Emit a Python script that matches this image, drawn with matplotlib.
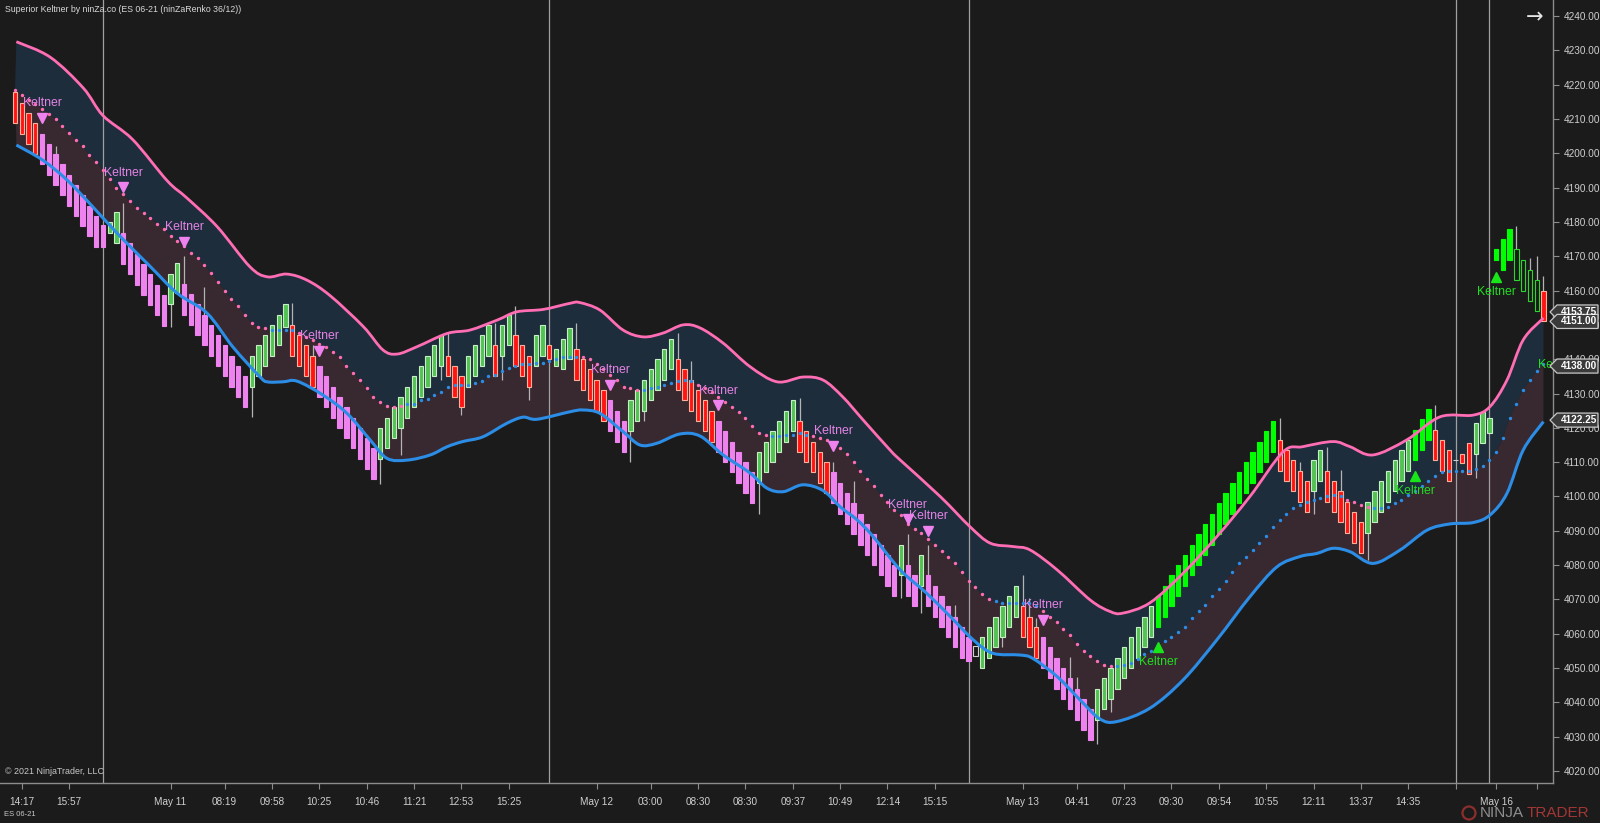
import numpy as np
import matplotlib.pyplot as plt
from matplotlib.patches import Polygon, Circle, PathPatch
from matplotlib.path import Path
from matplotlib.transforms import blended_transform_factory, IdentityTransform

# ninZaRenko bars (open / close)
OPEN = [4217.75, 4214.75, 4211.75, 4208.75, 4205.75, 4202.75, 4199.75, 4196.75, 4193.75, 4190.75,
        4187.75, 4184.75, 4181.75, 4179.0, 4176.75, 4173.75, 4176.75, 4173.75, 4170.75, 4167.75,
        4164.75, 4161.75, 4158.75, 4156.0, 4159.25, 4162.0, 4159.0, 4156.0, 4153.0, 4150.0,
        4147.0, 4144.0, 4141.0, 4138.0, 4135.0, 4132.0, 4135.0, 4138.0, 4141.0, 4144.0,
        4149.5, 4150.0, 4147.0, 4144.0, 4141.0, 4138.0, 4135.0, 4132.0, 4129.0, 4126.0,
        4123.0, 4120.0, 4117.0, 4114.0, 4111.0, 4114.0, 4117.0, 4120.0, 4123.0, 4126.0,
        4129.0, 4132.0, 4135.0, 4138.0, 4141.0, 4138.0, 4135.0, 4132.0, 4135.0, 4138.0,
        4141.0, 4144.0, 4141.0, 4144.0, 4147.0, 4144.0, 4141.0, 4138.0, 4141.0, 4144.0,
        4138.0, 4137.0, 4140.0, 4143.0, 4140.0, 4137.0, 4134.0, 4131.0, 4128.0, 4125.0,
        4122.0, 4119.0, 4122.0, 4125.0, 4128.0, 4131.0, 4134.0, 4137.0, 4140.0, 4137.0,
        4134.0, 4131.0, 4128.0, 4125.0, 4122.0, 4119.0, 4116.0, 4113.0, 4110.0, 4107.0,
        4104.0, 4107.0, 4110.0, 4113.0, 4116.0, 4119.0, 4122.0, 4119.0, 4116.0, 4113.0,
        4110.0, 4107.0, 4104.0, 4101.0, 4098.0, 4095.0, 4092.0, 4089.0, 4086.0, 4083.0,
        4080.0, 4077.0, 4080.0, 4077.0, 4074.0, 4077.0, 4074.0, 4071.0, 4068.0, 4065.0,
        4062.0, 4059.0, 4053.5, 4050.0, 4053.0, 4056.0, 4059.0, 4062.0, 4065.0, 4068.0,
        4065.0, 4062.0, 4059.0, 4056.0, 4053.0, 4050.0, 4047.0, 4044.0, 4041.0, 4038.0,
        4035.0, 4038.0, 4041.0, 4044.0, 4047.0, 4050.0, 4053.0, 4056.0, 4059.0, 4062.0,
        4065.0, 4068.0, 4071.0, 4074.0, 4077.0, 4080.0, 4083.0, 4086.0, 4089.0, 4092.0,
        4095.0, 4098.0, 4101.0, 4104.0, 4107.0, 4110.0, 4113.0, 4116.5, 4113.5, 4110.5,
        4107.5, 4104.5, 4101.5, 4104.5, 4107.5, 4104.5, 4101.5, 4098.5, 4095.5, 4092.5,
        4089.5, 4092.5, 4095.5, 4098.5, 4101.5, 4104.5, 4107.5, 4110.5, 4113.5, 4116.5,
        4119.5, 4116.5, 4113.5, 4110.75, 4112.5, 4115.5, 4112.5, 4115.5, 4118.5, 4169.0,
        4166.0, 4169.0, 4172.0, 4169.0, 4166.0, 4163.0, 4160.0]
CLOSE = [4208.75, 4205.75, 4202.75, 4199.75, 4196.75, 4193.75, 4190.75, 4187.75, 4184.75, 4181.75,
         4178.75, 4175.75, 4172.75, 4172.75, 4180.0, 4182.75, 4167.75, 4164.75, 4161.75, 4158.75,
         4155.75, 4152.75, 4149.75, 4164.75, 4168.0, 4153.0, 4150.0, 4147.0, 4144.0, 4141.0,
         4138.0, 4135.0, 4132.0, 4129.0, 4126.0, 4141.0, 4144.0, 4147.0, 4150.0, 4153.0,
         4156.0, 4141.0, 4138.0, 4135.0, 4132.0, 4129.0, 4126.0, 4123.0, 4120.0, 4117.0,
         4114.0, 4111.0, 4108.0, 4105.0, 4120.0, 4123.0, 4126.0, 4129.0, 4132.0, 4135.0,
         4138.0, 4141.0, 4144.0, 4147.0, 4135.0, 4129.0, 4126.0, 4141.0, 4144.0, 4147.0,
         4150.0, 4135.0, 4150.0, 4153.0, 4138.0, 4135.0, 4132.0, 4147.0, 4150.0, 4140.0,
         4143.0, 4146.0, 4149.0, 4134.0, 4131.0, 4128.0, 4125.0, 4122.0, 4119.0, 4116.0,
         4113.0, 4128.0, 4131.0, 4134.0, 4137.0, 4140.0, 4143.0, 4146.0, 4131.0, 4128.0,
         4125.0, 4122.0, 4119.0, 4116.0, 4113.0, 4110.0, 4107.0, 4104.0, 4101.0, 4098.0,
         4113.0, 4116.0, 4119.0, 4122.0, 4125.0, 4128.0, 4113.0, 4110.0, 4107.0, 4104.0,
         4101.0, 4098.0, 4095.0, 4092.0, 4089.0, 4086.0, 4083.0, 4080.0, 4077.0, 4074.0,
         4071.0, 4086.0, 4071.0, 4068.0, 4083.0, 4068.0, 4065.0, 4062.0, 4059.0, 4056.0,
         4053.0, 4052.0, 4056.5, 4059.0, 4062.0, 4065.0, 4068.0, 4071.0, 4074.0, 4059.0,
         4056.0, 4053.0, 4050.0, 4047.0, 4044.0, 4041.0, 4038.0, 4035.0, 4032.0, 4029.0,
         4044.0, 4047.0, 4050.0, 4053.0, 4056.0, 4059.0, 4062.0, 4065.0, 4068.0, 4071.0,
         4074.0, 4077.0, 4080.0, 4083.0, 4086.0, 4089.0, 4092.0, 4095.0, 4098.0, 4101.0,
         4104.0, 4107.0, 4110.0, 4113.0, 4116.0, 4119.0, 4122.0, 4107.5, 4104.5, 4101.5,
         4098.5, 4095.5, 4110.5, 4113.5, 4098.5, 4095.5, 4092.5, 4089.5, 4086.5, 4083.5,
         4098.5, 4101.5, 4104.5, 4107.5, 4110.5, 4113.5, 4116.5, 4119.5, 4122.5, 4125.5,
         4110.5, 4107.5, 4104.5, 4110.75, 4109.75, 4106.5, 4121.5, 4124.5, 4122.75, 4172.0,
         4175.0, 4178.0, 4163.0, 4160.0, 4157.0, 4154.0, 4151.0]
# V violet down, R red down, G green up, L lime up, H hollow, D neutral
KIND = ("RRRRVVVVVV" "VVVVGGVVVV" "VVVGGVVVVV" "VVVVVGGGGG" "GRRRRVVVVV"
        "VVVVGGGGGG" "GGGGRRRGGG" "GRGGRRRGGR" "GGGRRRRRVV" "VGGGGGGGRR"
        "RRRRVVVVVV" "GGGGGGRRRR" "RVVVVVVVVV" "VGVVGVVVVV" "VVDGGGGGGR"
        "RRVVVVVVVV" "GGGGGGGGGL" "LLLLLLLLLL" "LLLLLLLRRR" "RRGGRRRRRR"
        "GGGGGGGLLL" "RRRDRRGGGL" "LLHHHHR")

WICK_HI_BARS = [6, 16, 25, 28, 41, 44, 64, 71, 74, 83, 98, 100, 116, 121, 124, 132, 135, 139,
                149, 150, 151, 156, 157, 187, 190, 194, 196, 210, 222, 224, 225, 226]
WICK_HI = [4202.0, 4185.5, 4170.0, 4161.0, 4156.3, 4144.0, 4147.7, 4150.6, 4155.4, 4150.5, 4147.5,
           4139.6, 4128.6, 4110.0, 4104.6, 4089.0, 4086.0, 4068.4, 4077.0, 4070.3, 4064.5, 4053.3,
           4047.5, 4123.0, 4110.0, 4114.5, 4107.7, 4126.7, 4178.8, 4169.4, 4170.1, 4164.2]
WICK_LO_BARS = [23, 35, 54, 57, 63, 66, 72, 76, 91, 93, 110, 131, 134, 146, 160, 162, 192, 200, 216]
WICK_LO = [4149.5, 4123.2, 4103.5, 4112.2, 4134.0, 4123.7, 4134.0, 4128.0, 4110.0, 4122.0, 4095.0,
           4070.3, 4066.0, 4056.2, 4028.0, 4037.3, 4095.0, 4081.5, 4105.3]

# Keltner middle (one dot per bar)
MIDDLE = [4218.5, 4217, 4215.5, 4214.5, 4213, 4211.5, 4210, 4208, 4206, 4204,
          4202, 4199.5, 4197.5, 4195, 4192.5, 4190, 4188, 4186, 4184, 4182.5,
          4181, 4179.5, 4178, 4176, 4174.5, 4173, 4171, 4169.5, 4167.5, 4165,
          4162.5, 4160, 4157.5, 4155.5, 4153, 4150.5, 4149.5, 4149, 4148.5, 4148.5,
          4148.5, 4148.5, 4147.5, 4146.5, 4145.5, 4144.5, 4143.5, 4142, 4140.5, 4138,
          4136, 4134, 4131.5, 4129, 4127.5, 4126.5, 4126, 4126.5, 4127, 4127,
          4128, 4128.5, 4129.5, 4130.5, 4132, 4132.5, 4132.5, 4132.5, 4133, 4133.5,
          4135, 4135.5, 4136.5, 4137.5, 4138, 4138.5, 4138.5, 4139, 4139, 4139.5,
          4140, 4140.5, 4140.5, 4140.5, 4140.5, 4140, 4138.5, 4137, 4135.5, 4134,
          4132, 4131.5, 4131, 4131, 4131.5, 4132, 4132.5, 4133, 4133.5, 4134,
          4133.5, 4132.5, 4131.5, 4130.5, 4129, 4127.5, 4126, 4124.5, 4123, 4120.5,
          4118.5, 4118, 4117.5, 4117.5, 4118, 4118, 4118.5, 4118, 4117.5, 4117,
          4116.5, 4115.5, 4114, 4112.5, 4110, 4107.5, 4105, 4103, 4100.5, 4098.5,
          4096, 4094.5, 4092, 4090.5, 4089.5, 4087.5, 4086, 4084, 4082.5, 4080.5,
          4078, 4075.5, 4073.5, 4071.5, 4070, 4069.5, 4069, 4069, 4069, 4069,
          4069, 4068, 4066.5, 4065, 4063.5, 4061.5, 4059.5, 4057, 4055, 4053.5,
          4052, 4051, 4050.5, 4050.5, 4051, 4051.5, 4052.5, 4054, 4055, 4056.5,
          4058, 4059, 4060.5, 4062, 4064.5, 4066.5, 4068.5, 4071, 4073, 4075.5,
          4078, 4080.5, 4082.5, 4084.5, 4086.5, 4088.5, 4091, 4093, 4095, 4096.5,
          4097.5, 4098.5, 4099, 4099.5, 4100, 4100.5, 4100, 4099, 4098.5, 4097.5,
          4097, 4096.5, 4096.5, 4097, 4098, 4099, 4100.5, 4101.5, 4103, 4104.5,
          4106, 4107, 4107.5, 4107.5, 4107.5, 4107.5, 4108, 4109, 4110.5, 4113,
          4117, 4123, 4127, 4131, 4134, 4136.5, 4138.5]
# bars where the middle dots are blue (uptrend)
UP_SPANS = [(38, 41), (58, 83), (93, 100), (112, 117), (145, 151), (163, 196), (201, 226)]

UPPER_X = [0.2, 5.2, 10.1, 13.0, 17.4, 22.5, 25.4, 29.9, 34.7, 37.3, 40.2, 43.2, 46.6, 51.5, 54.4,
           56.5, 59.4, 63.9, 67.3, 71.3, 74.2, 78.1, 82.1, 83.5, 86.5, 89.9, 92.9, 95.8, 98.8, 101.3,
           104.7, 108.7, 112.7, 116.5, 119.5, 122.4, 125.4, 129.4, 130.9, 136.8, 141.2, 144.2, 147.6,
           150.1, 154.1, 159.0, 161.9, 163.8, 167.8, 172.7, 177.7, 182.6, 187.5, 190.4, 194.9, 197.4,
           200.8, 205.8, 210.7, 215.6, 218.1, 220.6, 223.0, 226.0]
UPPER = [4232.5, 4228.0, 4219.0, 4211.0, 4204.0, 4192.0, 4187.0, 4178.6, 4167.0, 4164.0, 4164.8,
         4163.0, 4158.5, 4149.5, 4142.7, 4141.5, 4143.6, 4147.5, 4148.5, 4151.4, 4153.8, 4154.5,
         4156.3, 4156.5, 4154.3, 4148.5, 4146.5, 4147.6, 4150.0, 4149.1, 4144.7, 4137.8, 4133.4,
         4134.8, 4133.9, 4129.0, 4122.3, 4113.5, 4110.6, 4100.0, 4091.2, 4086.4, 4085.4, 4084.4,
         4078.6, 4069.8, 4066.5, 4066.0, 4069.0, 4077.6, 4088.3, 4100.0, 4113.0, 4114.5, 4116.0,
         4114.5, 4112.1, 4116.5, 4123.2, 4123.7, 4126.2, 4133.9, 4145.6, 4152.0]
LOWER_X = [0.2, 4.1, 7.7, 11.5, 15.1, 20.0, 24.0, 28.4, 32.2, 36.2, 37.3, 39.6, 41.7, 45.5, 49.1,
           52.5, 55.0, 58.0, 61.4, 63.9, 66.2, 69.2, 72.7, 75.1, 77.2, 82.1, 84.0, 86.5, 89.9, 92.4,
           94.9, 98.3, 101.3, 104.7, 108.7, 111.2, 113.6, 116.5, 119.5, 122.0, 124.5, 126.9, 130.9,
           134.8, 138.3, 141.7, 144.6, 148.6, 150.5, 154.1, 157.5, 160.4, 162.9, 167.8, 172.7, 177.7,
           182.6, 186.6, 190.0, 192.5, 194.9, 197.4, 200.8, 204.8, 208.8, 212.2, 215.6, 218.1, 220.6,
           223.0, 226.0]
LOWER = [4202.4, 4198.0, 4192.2, 4184.4, 4176.7, 4167.0, 4159.2, 4153.4, 4143.6, 4134.9, 4133.4,
         4133.4, 4133.6, 4129.6, 4124.2, 4116.5, 4111.1, 4110.6, 4112.1, 4114.5, 4116.0, 4117.4,
         4121.3, 4123.1, 4122.5, 4124.7, 4125.2, 4124.2, 4118.9, 4115.0, 4115.5, 4118.2, 4117.6,
         4112.1, 4106.8, 4102.4, 4101.4, 4103.4, 4101.7, 4097.0, 4093.2, 4088.3, 4078.6, 4071.8,
         4065.0, 4058.2, 4054.3, 4053.8, 4052.8, 4047.5, 4040.7, 4035.2, 4034.4, 4038.3, 4046.5,
         4058.2, 4070.8, 4079.5, 4082.5, 4083.4, 4084.9, 4083.9, 4080.5, 4084.4, 4090.2, 4092.0,
         4092.4, 4094.6, 4100.9, 4113.5, 4121.8]

# signals
SELL_BARS = [4, 16, 25, 45, 88, 104, 121, 132, 135, 152]
SELL_PRICE = [4210.4, 4190.1, 4174.2, 4142.4, 4132.5, 4126.6, 4114.8, 4093.4, 4090.0, 4064.0]
BUY_BARS = [169, 207, 219]
BUY_PRICE = [4056.2, 4106.0, 4163.9]

SESSION_BARS = [13, 79, 141, 213, 218]
TICK_BARS = [1, 8, 23, 31, 38, 45, 52, 59, 66, 73, 86, 94, 101, 108, 115, 122, 129, 136, 149, 157,
             164, 171, 178, 185, 192, 199, 206, 213, 219, 225]
TICK_LABELS = ['14:17', '15:57', 'May 11', '08:19', '09:58', '10:25', '10:46', '11:21', '12:53',
               '15:25', 'May 12', '03:00', '08:30', '08:30', '09:37', '10:49', '12:14', '15:15',
               'May 13', '04:41', '07:23', '09:30', '09:54', '10:55', '12:11', '13:37', '14:35',
               '', 'May 16', '']
PRICE_TICKS = list(range(4020, 4241, 10))
PRICE_TAGS = [4153.75, 4151.00, 4138.00, 4122.25]


def smooth(xs, ys):
    # Catmull-Rom style bezier through the read points (drawing only)
    P = np.column_stack([xs, ys])
    n = len(P)
    verts, codes = [P[0]], [Path.MOVETO]
    for i in range(n - 1):
        p0 = P[i - 1] if i > 0 else P[i]
        p1, p2 = P[i], P[i + 1]
        p3 = P[i + 2] if i + 2 < n else P[i + 1]
        verts += [p1 + (p2 - p0) / 6, p2 - (p3 - p1) / 6, p2]
        codes += [Path.CURVE4] * 3
    return verts, codes


plt.rcParams['font.family'] = ['Liberation Sans', 'DejaVu Sans']

BG = '#1b1b1b'
fig = plt.figure(figsize=(16, 8.23), dpi=100, facecolor=BG)
ax = fig.add_axes([0, 40 / 823, 1553 / 1600, 783 / 823])
ax.set_facecolor(BG)

idx = np.arange(len(CLOSE))
o = np.array(OPEN)
c = np.array(CLOSE)
mid = np.array(MIDDLE)
kind = np.array(list(KIND))
mid_pts = list(np.column_stack([idx, mid]))

# band fills: smooth outer line + middle dots line
uv, uc = smooth(UPPER_X, UPPER)
lv, lc = smooth(LOWER_X, LOWER)
top = Path(uv + mid_pts[::-1] + [uv[0]], uc + [Path.LINETO] * len(mid_pts) + [Path.CLOSEPOLY])
ax.add_patch(PathPatch(top, facecolor='#1e2d3c', lw=0, zorder=1))
bot = Path(lv + mid_pts[::-1] + [lv[0]], lc + [Path.LINETO] * len(mid_pts) + [Path.CLOSEPOLY])
ax.add_patch(PathPatch(bot, facecolor='#38282f', lw=0, zorder=1))

for b in SESSION_BARS:
    ax.axvline(b, color='#a0a0a0', lw=0.9, zorder=2)

# wicks
body_top = np.maximum(o, c)
body_bot = np.minimum(o, c)
ax.vlines(WICK_HI_BARS, body_top[WICK_HI_BARS], WICK_HI, color='#b4b4b4', lw=0.9, zorder=3)
ax.vlines(WICK_LO_BARS, body_bot[WICK_LO_BARS], WICK_LO, color='#b4b4b4', lw=0.9, zorder=3)

styles = {
    'V': ('#ee82ee', '#ee82ee'),
    'R': ('#ff1414', '#ffb09a'),
    'G': ('#52c252', '#c6efc6'),
    'L': ('#00ff00', '#00ff00'),
    'H': ('none', '#2ed62e'),
    'D': ('none', '#d0d0d0'),
}
for k, (fc, ec) in styles.items():
    m = kind == k
    ax.bar(idx[m], c[m] - o[m], bottom=o[m], width=0.64, color=fc, edgecolor=ec,
           linewidth=0.8, zorder=4)

# Keltner lines
ax.add_patch(PathPatch(Path(uv, uc), fill=False, edgecolor='#ff6eb4', lw=2.0, zorder=5))
ax.add_patch(PathPatch(Path(lv, lc), fill=False, edgecolor='#2b8de6', lw=2.2, zorder=5))
up = np.zeros(len(mid), dtype=bool)
for a, b in UP_SPANS:
    up[a:b + 1] = True
ax.scatter(idx[~up], mid[~up], s=6, color='#ff6eb4', lw=0, zorder=5)
ax.scatter(idx[up], mid[up], s=6, color='#2b8de6', lw=0, zorder=5)

# signal markers
ax.plot(SELL_BARS, SELL_PRICE, 'v', color='#ee82ee', ms=6.5, zorder=6)
for b, p in zip(SELL_BARS, SELL_PRICE):
    ax.annotate('Keltner', (b, p), xytext=(0, 10.5), textcoords='offset points',
                ha='center', va='center', color='#e483e4', fontsize=8.8, zorder=6)
ax.plot(BUY_BARS, BUY_PRICE, '^', color='#19e619', ms=6.5, zorder=6)
for b, p in zip(BUY_BARS, BUY_PRICE):
    ax.annotate('Keltner', (b, p), xytext=(0, -11), textcoords='offset points',
                ha='center', va='center', color='#22dd22', fontsize=8.8, zorder=6)
ax.text(228, 4138.3, 'Keltner', ha='center', va='center', color='#22dd22', fontsize=8.8,
        clip_on=True, zorder=6)

# axes
ax.set_xlim(-2.22, 227.41)
ax.set_ylim(4016.51, 4244.66)
for s in ['left', 'top']:
    ax.spines[s].set_visible(False)
for s in ['right', 'bottom']:
    ax.spines[s].set_color('#8c8c8c')
    ax.spines[s].set_linewidth(1.0)
ax.yaxis.tick_right()
ax.set_yticks(PRICE_TICKS, ['%.2f' % v for v in PRICE_TICKS])
ax.set_xticks(TICK_BARS, TICK_LABELS)
ax.tick_params(axis='y', length=4, width=0.8, color='#8c8c8c', pad=4, labelsize=7.2,
               labelcolor='#cfcfcf')
ax.tick_params(axis='x', length=4, width=0.8, color='#8c8c8c', pad=6, labelsize=7.2,
               labelcolor='#cfcfcf')

# price markers on the axis
tr = blended_transform_factory(fig.transFigure, ax.transData)
x0, x1, x2 = 1550 / 1600, 1557 / 1600, 1598 / 1600
for p in PRICE_TAGS:
    h = 2.05
    poly = Polygon([(x0, p), (x1, p + h), (x2, p + h), (x2, p - h), (x1, p - h)], closed=True,
                   transform=tr, facecolor='#3a3a3a', edgecolor='#c8c8c8', lw=0.9,
                   clip_on=False, zorder=10)
    fig.add_artist(poly)
    fig.add_artist(plt.Text(1561 / 1600, p, '%.2f' % p, transform=tr, fontsize=7.2,
                            color='#ffffff', va='center', fontweight='bold', zorder=11))

# texts around the chart
fig.text(5 / 1600, 1 - 9 / 823, 'Superior Keltner by ninZa.co (ES 06-21 (ninZaRenko 36/12))',
         fontsize=6.3, color='#d8d8d8', va='center')
fig.text(5 / 1600, 1 - 772 / 823, '\u00a9 2021 NinjaTrader, LLC', fontsize=6.4,
         color='#c8c8c8', va='center')
fig.text(4 / 1600, 1 - 814 / 823, 'ES 06-21', fontsize=5.5, color='#c8c8c8', va='center')
fig.text(1535 / 1600, 1 - 17 / 823, '\u2192', fontsize=15, color='#e6e6e6', ha='center',
         va='center', family='DejaVu Sans')

# NinjaTrader logo
fig.add_artist(Circle((1469, 823 - 813), 6.5, transform=IdentityTransform(), facecolor='none',
                      edgecolor='#8a2e2e', lw=1.6))
fig.text(1480 / 1600, 1 - 813 / 823, 'NINJA', fontsize=11, color='#8f8f8f', va='center')
fig.text(1527 / 1600, 1 - 813 / 823, 'TRADER', fontsize=11, color='#a33636', va='center')

fig.savefig('out.png', dpi=100, facecolor=BG)
